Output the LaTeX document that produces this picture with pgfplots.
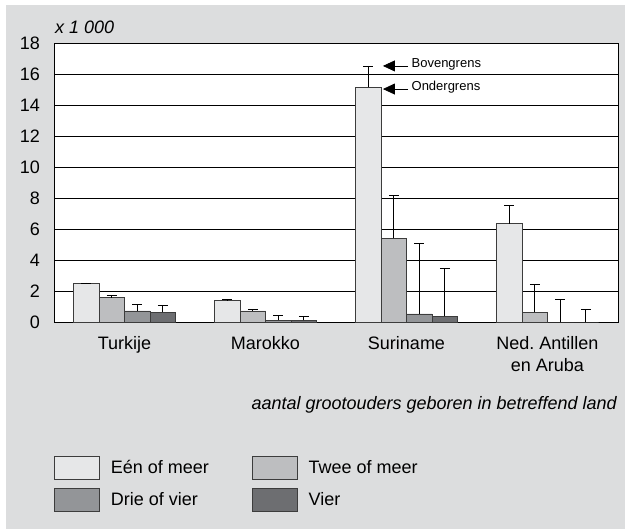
\documentclass[border=0pt]{standalone}
\usepackage{fontspec}
\setmainfont{Liberation Sans}
\usepackage{pgfplots}
\pgfplotsset{compat=1.18}
\usetikzlibrary{arrows.meta}
\definecolor{bggrey}{HTML}{DCDDDE}
\definecolor{cA}{HTML}{E6E7E8}
\definecolor{cB}{HTML}{BDBEC0}
\definecolor{cC}{HTML}{939598}
\definecolor{cD}{HTML}{6D6E71}
\definecolor{edge}{HTML}{3C3C3C}
\newcommand{\mainfont}{\fontsize{18bp}{22bp}\selectfont}
\frenchspacing
\begin{document}
\begin{tikzpicture}
\path[use as bounding box, fill=white] (-54bp,-209bp) rectangle (573bp,322bp);
\fill[bggrey] (-48bp,-207bp) rectangle (571bp,317bp);
\begin{axis}[
  at={(0,0)}, anchor=south west,
  scale only axis, width=564bp, height=279bp,
  clip=false,
  xmin=-0.5, xmax=3.5, ymin=0, ymax=18,
  axis background/.style={fill=white},
  axis line style={black, line width=0.8bp},
  ytick={0,2,...,18},
  ymajorgrids, grid style={black, line width=0.8bp},
  xtick={0,1,2,3},
  xticklabels={Turkije, Marokko, Suriname, {Ned.\ Antillen\\en Aruba}},
  major tick length=0pt,
  /pgf/number format/assume math mode=true,
  tick label style={font=\mainfont},
  xticklabel style={align=center, inner sep=0pt, anchor=north, yshift=-14bp},
  yticklabel style={anchor=east, inner sep=0pt, xshift=-14bp},
  ybar=0pt, bar width=25.5bp,
  legend columns=2,
  legend cell align=left,
  legend image code/.code={\draw[#1, line width=0.8bp] (0bp,-11.5bp) rectangle (45bp,11.5bp);},
  legend style={at={(rel axis cs:0,0)}, anchor=north west, yshift=-134bp,
    draw=none, fill=none, inner sep=0pt, outer sep=0pt, font=\mainfont,
    nodes={inner sep=0pt, anchor=west},
    column sep=11bp, row sep=8bp,
    /tikz/every even column/.append style={column sep=43bp}},
  eb/.style={error bars/.cd, y dir=plus, y explicit,
    error bar style={black, line width=0.8bp},
    error mark options={rotate=90, mark size=5bp, black, line width=0.8bp}},
]
\addplot[fill=cA, draw=edge, line width=0.8bp, eb] coordinates {
  (0,2.50) +- (0,0.02)
  (1,1.40) +- (0,0.03)
  (2,15.14) +- (0,1.38)
  (3,6.34) +- (0,1.19)
};
\addplot[fill=cB, draw=edge, line width=0.8bp, eb] coordinates {
  (0,1.57) +- (0,0.15)
  (1,0.71) +- (0,0.08)
  (2,5.40) +- (0,2.75)
  (3,0.62) +- (0,1.81)
};
\addplot[fill=cC, draw=edge, line width=0.8bp, eb] coordinates {
  (0,0.71) +- (0,0.43)
  (1,0.12) +- (0,0.33)
  (2,0.52) +- (0,4.53)
  (3,0.00) +- (0,1.46)
};
\addplot[fill=cD, draw=edge, line width=0.8bp, eb] coordinates {
  (0,0.62) +- (0,0.43)
  (1,0.10) +- (0,0.27)
  (2,0.37) +- (0,3.09)
  (3,0.00) +- (0,0.79)
};
\legend{Eén of meer, Twee of meer, Drie of vier, Vier}
\draw[black, line width=0.8bp, -{Triangle[length=12bp,width=11bp]}] (axis cs:2.011,16.52) -- (axis cs:1.833,16.52);
\node[anchor=west, inner sep=0pt, yshift=1.5bp, font=\fontsize{13bp}{15bp}\selectfont] at (axis cs:2.035,16.52) {Bovengrens};
\draw[black, line width=0.8bp, -{Triangle[length=12bp,width=11bp]}] (axis cs:2.011,15.03) -- (axis cs:1.833,15.03);
\node[anchor=west, inner sep=0pt, yshift=1.5bp, font=\fontsize{13bp}{15bp}\selectfont] at (axis cs:2.035,15.03) {Ondergrens};
\node[anchor=base west, inner sep=0pt, xshift=1bp, yshift=9bp, font=\itshape\mainfont] at (rel axis cs:0,1) {x 1 000};
\node[anchor=base east, inner sep=0pt, xshift=-1bp, yshift=-87bp, font=\itshape\mainfont] at (rel axis cs:1,0) {aantal grootouders geboren in betreffend land};
\end{axis}
\end{tikzpicture}
\end{document}
